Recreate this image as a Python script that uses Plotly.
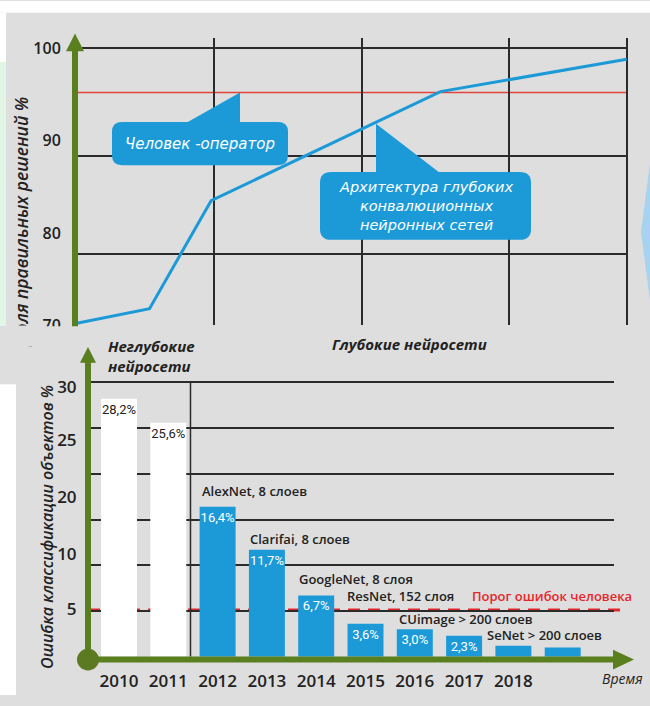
import plotly.graph_objects as go

W, H = 650, 706

# ---------------- data ----------------
# top chart: share of correct decisions, %
acc_years = [2009.2, 2010.7, 2011.95, 2016.6, 2020.38]
acc_values = [70.2, 71.8, 83.5, 95.3, 98.8]
human_accuracy = 95.2
top_tick_vals = [100, 90, 80, 70]
top_tick_text = ["100", "90", "80", "70"]

# bottom chart: classification error, %
year_labels = ["2010", "2011", "2012", "2013", "2014", "2015", "2016", "2017", "2018", ""]
error_pct = [28.2, 25.6, 16.4, 11.7, 6.7, 3.6, 3.0, 2.3, 1.2, 1.0]
labelled = [True, True, True, True, True, True, True, True, False, False]
shallow_count = 2
human_error = 5.0
bottom_tick_text = ["30", "25", "20", "10", "5"]
model_names = ["AlexNet, 8 слоев", "Clarifai, 8 слоев", "GoogleNet, 8 слоя",
               "ResNet, 152 слоя", "CUimage > 200 слоев", "SeNet > 200 слоев"]

# ---------------- styling ----------------
GRAY = "#dedede"
BLUE = "#1c9ad8"
GREEN = "#5a7f1e"
DARK = "#222222"
RED = "#e5262b"
FONT = "Open Sans"


def px(x):
    return x / W


def py(y):
    return 1 - y / H


def P(x, y):
    return f"{px(x):.5f},{py(y):.5f}"


def rrect(x0, y0, x1, y1, r):
    return (f"M {P(x0 + r, y0)} L {P(x1 - r, y0)} Q {P(x1, y0)} {P(x1, y0 + r)} "
            f"L {P(x1, y1 - r)} Q {P(x1, y1)} {P(x1 - r, y1)} L {P(x0 + r, y1)} "
            f"Q {P(x0, y1)} {P(x0, y1 - r)} L {P(x0, y0 + r)} Q {P(x0, y0)} {P(x0 + r, y0)} Z")


def tri(a, b, c):
    return f"M {P(*a)} L {P(*b)} L {P(*c)} Z"


# axis geometry (pixels)
TOP_X0, TOP_X1, TOP_Y0, TOP_Y1 = 75, 628, 330, 38
BOT_X0, BOT_X1, BOT_Y0, BOT_Y1 = 88, 614, 667, 380
top_xrange = [2010 + (TOP_X0 - 115) / 49.3, 2010 + (TOP_X1 - 115) / 49.3]
top_yrange = [100 - (TOP_Y0 - 48) / 9.4, 100 - (TOP_Y1 - 48) / 9.4]
bot_xrange = [(BOT_X0 - 119) / 49.3, (BOT_X1 - 119) / 49.3]
bot_yrange = [0, (BOT_Y0 - BOT_Y1) / 9.3]
bottom_tick_vals = [(BOT_Y0 - p) / 9.3 for p in (393, 447, 505, 563, 619)]


def bot_val_to_py(v):
    return BOT_Y0 - (v - bot_yrange[0]) / (bot_yrange[1] - bot_yrange[0]) * (BOT_Y0 - BOT_Y1)


fig = go.Figure()

fig.add_trace(go.Scatter(
    x=acc_years, y=acc_values, mode="lines",
    line=dict(color=BLUE, width=3), xaxis="x", yaxis="y",
    hoverinfo="skip", showlegend=False))

bar_colors = ["white" if i < shallow_count else BLUE for i in range(len(error_pct))]
text_colors = [DARK if i < shallow_count else "white" for i in range(len(error_pct))]
bar_text = [(f"{v:.1f}%".replace(".", ",") if lab else "") for v, lab in zip(error_pct, labelled)]

fig.add_trace(go.Bar(
    x=list(range(len(error_pct))), y=error_pct, width=0.73,
    marker=dict(color=bar_colors, line=dict(width=0)),
    text=bar_text, textposition="inside", insidetextanchor="end",
    textangle=0, constraintext="none",
    textfont=dict(color=text_colors, size=13, family="Roboto"),
    xaxis="x2", yaxis="y2", hoverinfo="skip", showlegend=False, cliponaxis=False))

grid = "#2b2b2b"
fig.update_layout(
    width=W, height=H, margin=dict(l=0, r=0, t=0, b=0),
    paper_bgcolor=GRAY, plot_bgcolor="rgba(0,0,0,0)",
    font=dict(family=FONT, color=DARK),
    xaxis=dict(domain=[px(TOP_X0), px(TOP_X1)], range=top_xrange, anchor="y",
               tickmode="array", tickvals=[2012, 2015, 2018, 2020.38],
               showticklabels=False, ticks="", showgrid=True, gridcolor=grid,
               gridwidth=1.5, zeroline=False, showline=False, fixedrange=True),
    yaxis=dict(domain=[py(TOP_Y0), py(TOP_Y1)], range=top_yrange, anchor="x",
               tickmode="array", tickvals=top_tick_vals, ticktext=top_tick_text,
               ticks="outside", ticklen=10, tickcolor="rgba(0,0,0,0)",
               tickfont=dict(size=16, weight=600, color=DARK),
               showgrid=False, zeroline=False, showline=False,
               minor=dict(tickmode="array", tickvals=[99.97, 88.3, 77.7], showgrid=True,
                          gridcolor=grid, gridwidth=1.5, ticks=""),
               fixedrange=True),
    xaxis2=dict(domain=[px(BOT_X0), px(BOT_X1)], range=bot_xrange, anchor="y2",
                tickmode="array", tickvals=list(range(len(year_labels))), ticktext=year_labels,
                ticks="outside", ticklen=9, tickcolor="rgba(0,0,0,0)",
                tickfont=dict(size=17, weight=600, color=DARK),
                showgrid=False, zeroline=False, showline=False, fixedrange=True),
    yaxis2=dict(domain=[py(BOT_Y0), py(BOT_Y1)], range=bot_yrange, anchor="x2",
                tickmode="array", tickvals=bottom_tick_vals, ticktext=bottom_tick_text,
                ticks="outside", ticklen=7, tickcolor="rgba(0,0,0,0)",
                tickfont=dict(size=17, weight=600, color=DARK),
                showgrid=False, zeroline=False, showline=False,
                minor=dict(tickmode="array", tickvals=[5, 10, 15, 20, 25, 30], showgrid=True,
                           gridcolor=grid, gridwidth=1.5, ticks=""),
                fixedrange=True),
)

shapes = []
# page background strips
shapes.append(dict(type="rect", xref="paper", yref="paper", x0=0, x1=1, y0=py(12), y1=1,
                   fillcolor="white", line_width=0, layer="below"))
shapes.append(dict(type="rect", xref="paper", yref="paper", x0=0, x1=px(6), y0=py(330), y1=py(12),
                   fillcolor="white", line_width=0, layer="below"))
shapes.append(dict(type="rect", xref="paper", yref="paper", x0=0, x1=px(6), y0=py(330), y1=py(62),
                   fillcolor="#e2f6e6", line_width=0, layer="below"))
shapes.append(dict(type="rect", xref="paper", yref="paper", x0=0, x1=px(16), y0=0, y1=py(390),
                   fillcolor="white", line_width=0, layer="below"))
shapes.append(dict(type="path", xref="paper", yref="paper",
                   path=tri((650, 165), (641, 235), (650, 305)),
                   fillcolor="#a8d3f0", line_width=0, layer="below"))

# human accuracy line (top chart)
shapes.append(dict(type="line", xref="x", yref="y", x0=top_xrange[0], x1=2020.38,
                   y0=human_accuracy, y1=human_accuracy, line=dict(color="#e2453a", width=1.5),
                   layer="below"))

# human error threshold (bottom chart)
thr_y = bot_val_to_py(human_error) - 1
shapes.append(dict(type="line", xref="paper", yref="paper", x0=px(BOT_X0), x1=px(625),
                   y0=py(thr_y), y1=py(thr_y), line=dict(color=RED, width=3, dash="12px,8px"),
                   layer="below"))
# divider between shallow and deep nets
shapes.append(dict(type="line", xref="x2", yref="y2", x0=1.45, x1=1.45, y0=0, y1=30,
                   line=dict(color=grid, width=1.5), layer="below"))

# callout 1
shapes.append(dict(type="path", xref="paper", yref="paper", path=rrect(112, 123, 288, 167, 10),
                   fillcolor=BLUE, line_width=0, layer="above"))
shapes.append(dict(type="path", xref="paper", yref="paper", path=tri((186, 124), (240, 124), (240, 93)),
                   fillcolor=BLUE, line_width=0, layer="above"))
# callout 2
shapes.append(dict(type="path", xref="paper", yref="paper", path=rrect(320, 174, 531, 243, 11),
                   fillcolor=BLUE, line_width=0, layer="above"))
shapes.append(dict(type="path", xref="paper", yref="paper", path=tri((376, 175), (440, 175), (376, 125)),
                   fillcolor=BLUE, line_width=0, layer="above"))

# cover strip where the top picture is cut
shapes.append(dict(type="rect", xref="paper", yref="paper", x0=px(16), x1=1, y0=py(346), y1=py(331),
                   fillcolor=GRAY, line_width=0, layer="above"))

# top y axis arrow
shapes.append(dict(type="line", xref="paper", yref="paper", x0=px(75), x1=px(75), y0=py(331), y1=py(48),
                   line=dict(color=GREEN, width=6), layer="above"))
shapes.append(dict(type="path", xref="paper", yref="paper", path=tri((66, 51), (84, 51), (75, 33)),
                   fillcolor=GREEN, line_width=0, layer="above"))
# bottom axes arrows
shapes.append(dict(type="line", xref="paper", yref="paper", x0=px(88), x1=px(88), y0=py(670), y1=py(366),
                   line=dict(color=GREEN, width=6), layer="above"))
shapes.append(dict(type="path", xref="paper", yref="paper", path=tri((80, 368), (96, 368), (88, 352)),
                   fillcolor=GREEN, line_width=0, layer="above"))
shapes.append(dict(type="line", xref="paper", yref="paper", x0=px(88), x1=px(615), y0=py(670), y1=py(670),
                   line=dict(color=GREEN, width=6), layer="above"))
shapes.append(dict(type="path", xref="paper", yref="paper", path=tri((613, 660), (613, 680), (634, 670)),
                   fillcolor=GREEN, line_width=0, layer="above"))
shapes.append(dict(type="circle", xref="paper", yref="paper", x0=px(77), x1=px(99), y0=py(681), y1=py(659),
                   fillcolor="#5b7a22", line_width=0, layer="above"))

fig.update_layout(shapes=shapes)

ann = []


def note(text, x, y, size=13, color=DARK, xanchor="left", yanchor="middle", italic=False,
         weight=600, textangle=0, align="left", family=FONT):
    ann.append(dict(text=text, x=px(x), y=py(y), xref="paper", yref="paper", showarrow=False,
                    xanchor=xanchor, yanchor=yanchor, align=align, textangle=textangle,
                    font=dict(size=size, color=color, family=family, weight=weight,
                              style="italic" if italic else "normal")))


# axis titles
note("Доля правильных решений %", 21, 225, size=17.5, italic=True, xanchor="center",
     textangle=-90, align="center")
# the top picture is cut off here, hiding the first letter
ann.append(dict(text=" ", x=px(21), y=py(341), xref="paper", yref="paper", showarrow=False,
                width=30, height=20, bgcolor=GRAY, borderpad=0, xanchor="center", yanchor="middle"))
note("Ошибка классификации объектов %", 47, 535, size=16, italic=True, xanchor="center",
     textangle=-90, align="center")
# headers
note("Неглубокие<br>нейросети", 106, 361, size=15, italic=True, weight=700)
note("Глубокие нейросети", 330, 349, size=15, italic=True, weight=700)
note("Время", 645, 689, size=14, italic=True, weight=500, xanchor="right")
# callout texts
CALLOUT_FONT = "DejaVu Sans"
note("Человек -оператор", 200, 145, size=15, color="white", italic=True, weight=400,
     xanchor="center", align="center", family=CALLOUT_FONT)
note("Архитектура глубоких<br>конвалюционных<br>нейронных сетей", 426, 209, size=14.5,
     color="white", italic=True, weight=400, xanchor="center", align="center",
     family=CALLOUT_FONT)
# model names
name_pos = [(200, 498), (248, 547), (297, 588), (345, 605), (397, 629), (485, 645)]
for name, (x, y) in zip(model_names, name_pos):
    note(name, x, y, size=13)
note("Порог ошибок человека", 470, 605, size=13, color=RED)

fig.update_layout(annotations=ann)

fig.write_html("out.html", config={"displayModeBar": False},
               post_script="document.body.style.margin='0';")
